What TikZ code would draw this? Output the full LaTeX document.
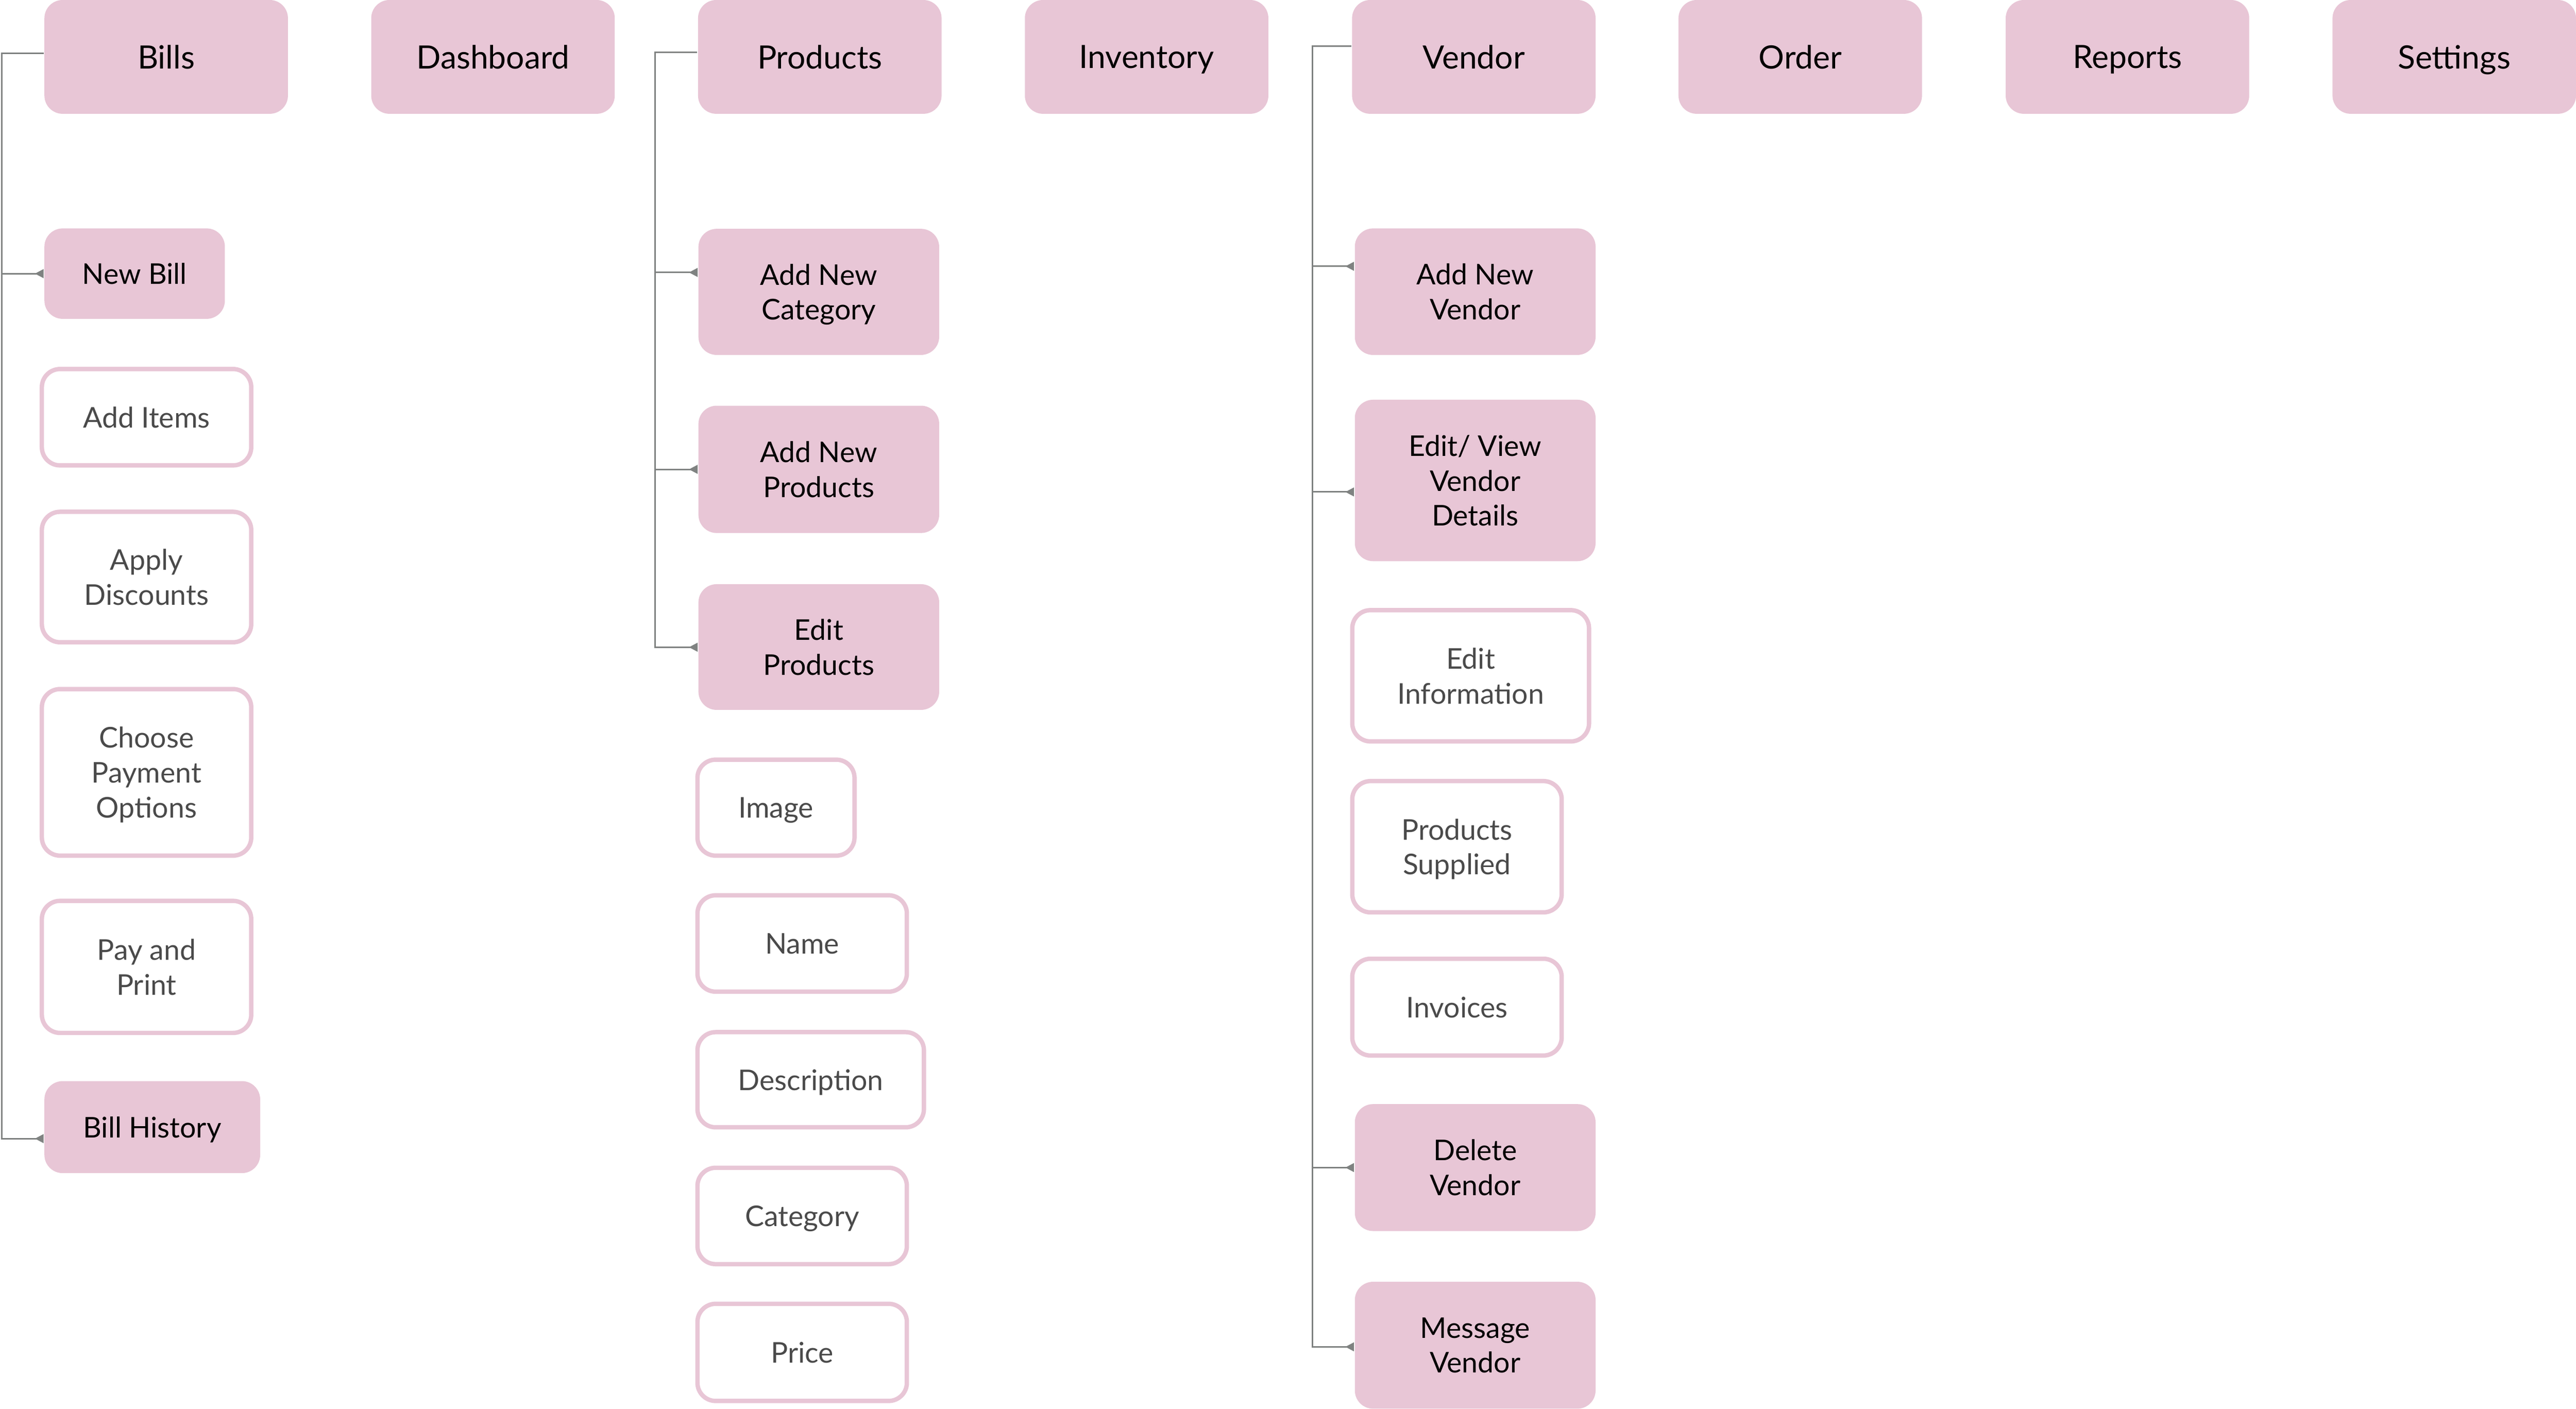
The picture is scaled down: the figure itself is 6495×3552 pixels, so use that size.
\documentclass[tikz,border=0pt]{standalone}
\usepackage{fontspec}
\setmainfont{Lato}
\usetikzlibrary{arrows.meta}
\definecolor{boxpink}{HTML}{E8C6D6}
\definecolor{textgray}{HTML}{4A4A4A}
\definecolor{conngray}{HTML}{7F8281}
\newcommand{\topfont}{\fontsize{8.1}{9.7}\selectfont}
\newcommand{\childfont}{\fontsize{7.2}{8.8}\selectfont}
% #1 name, #2 style, #3 x1, #4 x2, #5 y1, #6 y2, #7 text (outer bounds in px)
\newcommand{\placebox}[7]{%
  \pgfmathsetmacro{\pbX}{(#3+#4)/2}%
  \pgfmathsetmacro{\pbY}{(#5+#6)/2}%
  \pgfmathsetmacro{\pbW}{(#4-#3)*0.1}%
  \pgfmathsetmacro{\pbH}{(#6-#5)*0.1}%
  \node[#2, minimum width=\pbW pt, minimum height=\pbH pt] (#1) at (\pbX,\pbY) {#7};}
\newcommand{\placeobox}[7]{%
  \pgfmathsetmacro{\pbX}{(#3+#4)/2}%
  \pgfmathsetmacro{\pbY}{(#5+#6)/2}%
  \pgfmathsetmacro{\pbW}{(#4-#3-11)*0.1}%
  \pgfmathsetmacro{\pbH}{(#6-#5-11)*0.1}%
  \node[#2, minimum width=\pbW pt, minimum height=\pbH pt] (#1) at (\pbX,\pbY) {#7};}
\tikzset{
  filledbox/.style={rectangle, rounded corners=4.6pt, fill=boxpink, draw=none,
    text=black, align=center, inner sep=0pt, text depth=-0.6pt, font=\childfont},
  topbox/.style={filledbox, font=\topfont},
  outlbox/.style={rectangle, rounded corners=4.6pt, draw=boxpink, line width=1.1pt,
    fill=white, text=textgray, align=center, inner sep=0pt, text depth=-0.6pt, font=\childfont},
  trunkline/.style={draw=conngray, line width=0.4pt, line join=miter},
  branchline/.style={trunkline, -{Triangle[reversed,length=2.2pt,width=2.2pt]}},
}
\begin{document}
\begin{tikzpicture}[x=0.1pt, y=-0.1pt]
\useasboundingbox[fill=white] (0,0) rectangle (6495,3552);

% top row
\placebox{bills}{topbox}{112}{726}{0}{287}{Bills}
\placebox{dash}{topbox}{936}{1550}{0}{287}{Dashboard}
\placebox{products}{topbox}{1760}{2374}{0}{287}{Products}
\placebox{inventory}{topbox}{2584}{3198}{0}{287}{Inventory}
\placebox{vendor}{topbox}{3409}{4023}{0}{287}{Vendor}
\placebox{order}{topbox}{4232}{4846}{0}{287}{Order}
\placebox{reports}{topbox}{5057}{5671}{0}{287}{Reports}
\placebox{settings}{topbox}{5881}{6495}{0}{287}{Settings}

% Bills column
\placebox{newbill}{filledbox}{112}{567}{576}{804}{New Bill}
\placeobox{additems}{outlbox}{100}{639}{925}{1179}{Add Items}
\placeobox{applydisc}{outlbox}{100}{639}{1285}{1625}{Apply\\Discounts}
\placeobox{choosepay}{outlbox}{100}{639}{1732}{2163}{Choose\\Payment\\Options}
\placeobox{payprint}{outlbox}{100}{639}{2266}{2610}{Pay and\\Print}
\placebox{billhist}{filledbox}{112}{656}{2726}{2958}{Bill History}

% Products column
\placebox{addcat}{filledbox}{1761}{2368}{577}{895}{Add New\\Category}
\placebox{addprod}{filledbox}{1761}{2368}{1023}{1344}{Add New\\Products}
\placebox{editprod}{filledbox}{1761}{2368}{1473}{1790}{Edit\\Products}
\placeobox{image}{outlbox}{1753}{2160}{1910}{2163}{Image}
\placeobox{name}{outlbox}{1753}{2292}{2252}{2506}{Name}
\placeobox{desc}{outlbox}{1753}{2335}{2597}{2848}{Description}
\placeobox{cat}{outlbox}{1753}{2292}{2939}{3193}{Category}
\placeobox{price}{outlbox}{1753}{2292}{3282}{3538}{Price}

% Vendor column
\placebox{addvendor}{filledbox}{3416}{4023}{576}{895}{Add New\\Vendor}
\placebox{editview}{filledbox}{3416}{4023}{1008}{1415}{Edit/ View\\Vendor\\Details}
\placeobox{editinfo}{outlbox}{3404}{4012}{1533}{1875}{Edit\\Information}
\placeobox{prodsup}{outlbox}{3404}{3943}{1964}{2306}{Products\\Supplied}
\placeobox{invoices}{outlbox}{3404}{3943}{2412}{2667}{Invoices}
\placebox{delvendor}{filledbox}{3416}{4023}{2784}{3104}{Delete\\Vendor}
\placebox{msgvendor}{filledbox}{3416}{4023}{3232}{3552}{Message\\Vendor}

% connectors: Bills
\coordinate (bT) at (5,134);
\coordinate (bB) at (5,2871);
\draw[branchline] (bills.west |- bT) -- (bT) -- (bB) -- (billhist.west |- bB);
\draw[branchline] (bT |- newbill.west) -- (newbill.west);

% connectors: Products
\coordinate (pT) at (1652,132);
\coordinate (pB) at (1652,1632);
\draw[branchline] (products.west |- pT) -- (pT) -- (pB) -- (editprod.west |- pB);
\path ([yshift=4.9pt]addcat.west) coordinate (acA);
\draw[branchline] (pT |- acA) -- (acA);
\draw[branchline] (pT |- addprod.west) -- (addprod.west);

% connectors: Vendor
\coordinate (vT) at (3309,116);
\coordinate (vB) at (3309,3396);
\draw[branchline] (vendor.west |- vT) -- (vT) -- (vB) -- (msgvendor.west |- vB);
\path ([yshift=6.4pt]addvendor.west) coordinate (avA);
\draw[branchline] (vT |- avA) -- (avA);
\path ([yshift=-2.9pt]editview.west) coordinate (evA);
\draw[branchline] (vT |- evA) -- (evA);
\draw[branchline] (vT |- delvendor.west) -- (delvendor.west);
\end{tikzpicture}
\end{document}
